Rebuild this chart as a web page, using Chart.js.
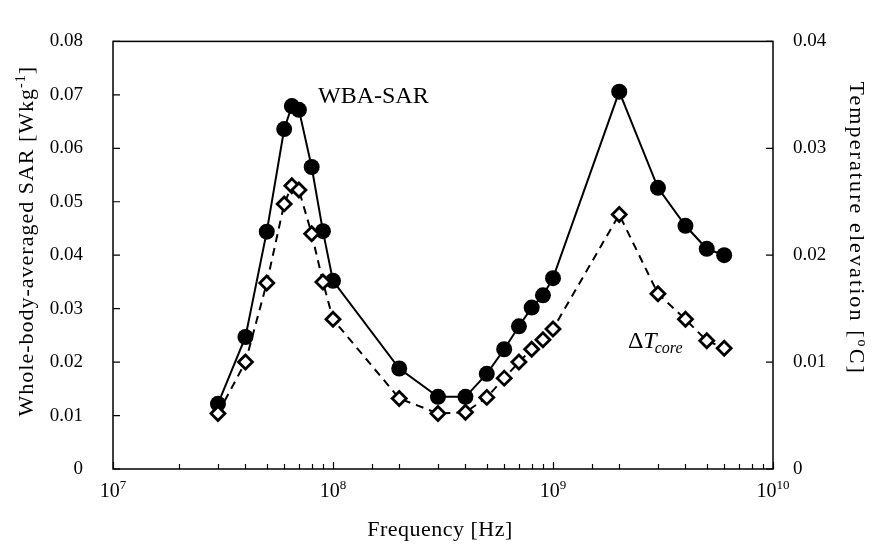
<!DOCTYPE html>
<html>
<head>
    <title>WBA-SAR and core temperature vs frequency</title>
    <script src="https://cdn.jsdelivr.net/npm/chart.js"></script>
    <style>
        body { margin: 0; background: #fff; }
    </style>
</head>
<body>
    <canvas id="myChart" width="875" height="551"></canvas>
    <script>
        // frequencies [Hz], shared by both series
        var freqs = [3e7, 4e7, 5e7, 6e7, 6.5e7, 7e7, 8e7, 9e7, 1e8,
                     2e8, 3e8, 4e8, 5e8, 6e8, 7e8, 8e8, 9e8, 1e9,
                     2e9, 3e9, 4e9, 5e9, 6e9];
        // whole-body-averaged SAR [W/kg] (left axis)
        var wbaSar = [0.0122, 0.0247, 0.0444, 0.0636, 0.0679, 0.0672, 0.0565, 0.0445, 0.0352,
                      0.0188, 0.0135, 0.0135, 0.0178, 0.0224, 0.0267, 0.0302, 0.0325, 0.0357,
                      0.0706, 0.0526, 0.0455, 0.0412, 0.0400];
        // core temperature elevation [C] (right axis)
        var deltaTcore = [0.0052, 0.0100, 0.0174, 0.0248, 0.0265, 0.0261, 0.0220, 0.0175, 0.0140,
                          0.0066, 0.0052, 0.0053, 0.0067, 0.0085, 0.0100, 0.0112, 0.0121, 0.0131,
                          0.0238, 0.0164, 0.0140, 0.0120, 0.0113];
        var xTickExps = [7, 8, 9, 10];

        var FONT = '"Liberation Serif", "Times New Roman", serif';

        function isDecade(v) {
            var e = Math.log10(v);
            return Math.abs(e - Math.round(e)) < 1e-9;
        }

        // draw a run of [text, size, dy, italic] pieces centred on (0,0) in the current transform
        function drawPieces(c, pieces, spacing) {
            c.letterSpacing = spacing + 'px';
            var total = 0;
            pieces.forEach(function(p) {
                c.font = (p[3] ? 'italic ' : '') + p[1] + 'px ' + FONT;
                p.w = c.measureText(p[0]).width;
                total += p.w;
            });
            var x = -total / 2;
            pieces.forEach(function(p) {
                c.font = (p[3] ? 'italic ' : '') + p[1] + 'px ' + FONT;
                c.fillText(p[0], x, p[2]);
                x += p.w;
            });
        }

        // frame, inward tick marks, x labels, axis titles and the two in-plot labels
        var decor = {
            id: 'decor',
            afterDraw: function(chart) {
                var c = chart.ctx, a = chart.chartArea, s = chart.scales;
                c.save();
                c.strokeStyle = '#000';
                c.lineWidth = 1.5;
                c.strokeRect(a.left, a.top, a.right - a.left, a.bottom - a.top);
                c.beginPath();
                s.x.ticks.forEach(function(t) {
                    var px = Math.round(s.x.getPixelForValue(t.value)) + 0.5;
                    var len = isDecade(t.value) ? 7 : 5;
                    c.moveTo(px, a.bottom);
                    c.lineTo(px, a.bottom - len);
                });
                s.y.ticks.forEach(function(t) {
                    var py = s.y.getPixelForValue(t.value);
                    c.moveTo(a.left, py);
                    c.lineTo(a.left + 7, py);
                });
                s.y1.ticks.forEach(function(t) {
                    var py = s.y1.getPixelForValue(t.value);
                    c.moveTo(a.right, py);
                    c.lineTo(a.right - 7, py);
                });
                c.lineWidth = 1.2;
                c.stroke();

                c.fillStyle = '#000';
                c.textBaseline = 'alphabetic';
                c.textAlign = 'left';

                // decade labels 10^n under the x axis
                s.x.ticks.forEach(function(t) {
                    if (!isDecade(t.value)) return;
                    var e = Math.round(Math.log10(t.value));
                    if (xTickExps.indexOf(e) < 0) return;
                    c.save();
                    c.translate(s.x.getPixelForValue(t.value), a.bottom + 28);
                    drawPieces(c, [['10', 20, 0], [String(e), 13, -8]], 0);
                    c.restore();
                });

                // axis titles
                c.save();
                c.translate(440, a.bottom + 67);
                drawPieces(c, [['Frequency [Hz]', 22, 0]], 0.5);
                c.restore();

                c.save();
                c.translate(a.left - 80, (a.top + a.bottom) / 2 - 14);
                c.rotate(-Math.PI / 2);
                drawPieces(c, [['Whole-body-averaged SAR [Wkg', 22, 0], ['-1', 14, -8], [']', 22, 0]], 1.0);
                c.restore();

                c.save();
                c.translate(a.right + 77, (a.top + a.bottom) / 2 - 27);
                c.rotate(Math.PI / 2);
                drawPieces(c, [['Temperature elevation [', 22, 0], ['o', 14, -8], ['C]', 22, 0]], 2.1);
                c.restore();

                c.letterSpacing = '0px';
                c.textAlign = 'left';
                c.font = '24px ' + FONT;
                c.fillText('WBA-SAR', s.x.getPixelForValue(8.55e7), s.y.getPixelForValue(0.0684));

                var tx = s.x.getPixelForValue(2.19e9), ty = s.y1.getPixelForValue(0.0113);
                c.font = '24px ' + FONT;
                c.fillText('Δ', tx, ty);
                tx += c.measureText('Δ').width;
                c.font = 'italic 24px ' + FONT;
                c.fillText('T', tx, ty);
                tx += c.measureText('T').width - 2;
                c.font = 'italic 16px ' + FONT;
                c.fillText('core', tx, ty + 5);
                c.restore();
            }
        };

        var ctx = document.getElementById('myChart').getContext('2d');
        var chart = new Chart(ctx, {
            type: 'line',
            data: {
                datasets: [{
                    label: 'ΔTcore',
                    data: freqs.map(function(f, i) { return { x: f, y: deltaTcore[i] }; }),
                    yAxisID: 'y1',
                    borderColor: '#000',
                    borderWidth: 2,
                    borderDash: [8, 6],
                    pointStyle: 'rectRot',
                    pointRadius: 7,
                    pointBackgroundColor: '#fff',
                    pointBorderColor: '#000',
                    pointBorderWidth: 2.8,
                    tension: 0
                }, {
                    label: 'WBA-SAR',
                    data: freqs.map(function(f, i) { return { x: f, y: wbaSar[i] }; }),
                    yAxisID: 'y',
                    borderColor: '#000',
                    borderWidth: 2,
                    pointStyle: 'circle',
                    pointRadius: 8,
                    pointBackgroundColor: '#000',
                    pointBorderColor: '#000',
                    pointBorderWidth: 0,
                    tension: 0
                }]
            },
            options: {
                responsive: false,
                animation: false,
                layout: { padding: { top: 19, left: 0, right: 0, bottom: 0 } },
                plugins: { legend: { display: false }, tooltip: { enabled: false } },
                scales: {
                    x: {
                        type: 'logarithmic',
                        position: 'bottom',
                        min: 1e7,
                        max: 1e10,
                        grid: { display: false, drawTicks: false },
                        border: { display: false },
                        afterFit: function(s) { s.height = 82; },
                        ticks: { display: false, autoSkip: false }
                    },
                    y: {
                        position: 'left',
                        min: 0,
                        max: 0.08,
                        grid: { display: false, drawTicks: false },
                        border: { display: false },
                        afterFit: function(s) { s.width = 113; },
                        ticks: {
                            stepSize: 0.01,
                            padding: 30,
                            color: '#000',
                            font: { family: FONT, size: 19 },
                            callback: function(v) { return v === 0 ? '0' : v.toFixed(2); }
                        }
                    },
                    y1: {
                        position: 'right',
                        min: 0,
                        max: 0.04,
                        grid: { display: false, drawTicks: false },
                        border: { display: false },
                        afterFit: function(s) { s.width = 102; },
                        ticks: {
                            stepSize: 0.01,
                            padding: 20,
                            color: '#000',
                            font: { family: FONT, size: 19 },
                            callback: function(v) { return v === 0 ? '0' : v.toFixed(2); }
                        }
                    }
                }
            },
            plugins: [decor]
        });
    </script>
</body>
</html>
